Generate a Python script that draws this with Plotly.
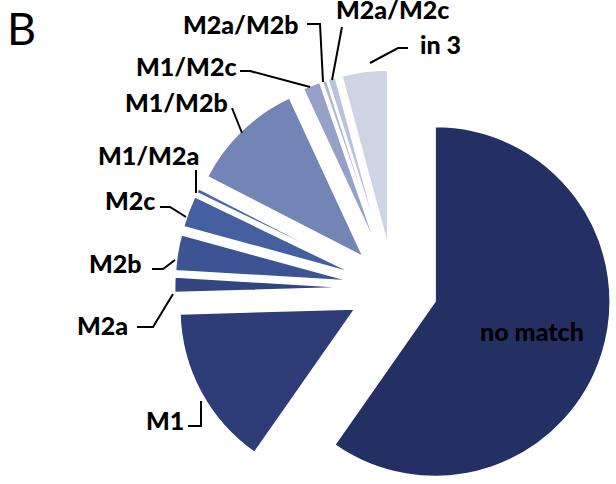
import math
import plotly.graph_objects as go

# ---- data ----
labels = ["no match", "M1", "M2a", "M2b", "M2c", "M1/M2a", "M1/M2b",
          "M1/M2c", "M2a/M2b", "M2a/M2c", "in 3"]
values = [59.6, 14.8, 1.4, 3.3, 2.9, 0.4, 10.5, 1.6, 0.4, 0.7, 4.2]
colors = ["#243064", "#2E3D77", "#324581", "#3C5493", "#4560A0", "#4A68AE",
          "#7384B7", "#95A1C8", "#AEB7D6", "#B9C1DC", "#CFD4E4"]

# ---- layout geometry (pixels) ----
W, H = 616, 484
R = 175.0          # pie radius
PULL = 0.25        # exploded fraction of radius (same for every slice)
C = [393.4, 291.0]  # pie centre

total = sum(values)
pull_px = PULL * R

def centre_of(i):
    start = 360.0 * sum(values[:i]) / total
    mid = math.radians(start + 180.0 * values[i] / total)
    return (C[0] + pull_px * math.sin(mid), C[1] - pull_px * math.cos(mid))

# keep every slice's box inside the page
centres = [centre_of(i) for i in range(len(values))]
dy = max(0.0, max(cy + R for _, cy in centres) - H)
dx = max(0.0, max(cx + R for cx, _ in centres) - W)
centres = [(cx - dx, cy - dy) for cx, cy in centres]

fig = go.Figure()
n = len(values)
for i, (cx, cy) in enumerate(centres):
    cols = ["rgba(0,0,0,0)"] * n
    cols[i] = colors[i]
    lw = [0] * n
    lw[i] = 1.5
    x0 = max(0.0, (cx - R) / W); x1 = min(1.0, (cx + R) / W)
    y0 = max(0.0, 1 - (cy + R) / H); y1 = min(1.0, 1 - (cy - R) / H)
    fig.add_trace(go.Pie(
        values=values, labels=labels, sort=False, direction="clockwise",
        rotation=0, marker=dict(colors=cols, line=dict(color="white", width=lw)),
        textinfo="none", hoverinfo="label+value", showlegend=False,
        domain=dict(x=[x0, x1], y=[y0, y1])))

def px(x, y):
    return x / W, 1 - y / H

FONT = "Lato, 'Open Sans', sans-serif"
label_pos = {
    "M2a/M2c": (392, 9),
    "M2a/M2b": (240, 24),
    "in 3": (440, 44),
    "M1/M2c": (186, 66),
    "M1/M2b": (176, 102),
    "M1/M2a": (148, 155),
    "M2c": (130, 200),
    "M2b": (115, 263),
    "M2a": (103, 325),
    "M1": (165, 420),
}
annotations = []
for lab, (x, y) in label_pos.items():
    ax_, ay_ = px(x, y)
    annotations.append(dict(x=ax_, y=ay_, xref="paper", yref="paper",
                            text=lab, showarrow=False,
                            xanchor="center", yanchor="middle",
                            font=dict(family=FONT, size=25, color="black",
                                      weight=900)))
nx, ny = px(532, 331)
annotations.append(dict(x=nx, y=ny, xref="paper", yref="paper",
                        text="no match", showarrow=False,
                        xanchor="center", yanchor="middle",
                        font=dict(family=FONT, size=25, color="black",
                                  weight=900)))
bx, by = px(21, 28)
annotations.append(dict(x=bx, y=by, xref="paper", yref="paper", text="B",
                        showarrow=False, xanchor="center", yanchor="middle",
                        font=dict(family=FONT, size=45, color="black")))

leaders = [
    [(188, 426), (201, 426), (201, 401)],
    [(137, 327), (153, 327), (173, 294)],
    [(152, 269), (163, 269), (175, 260)],
    [(160, 207), (170, 207), (186, 217)],
    [(196, 170), (196, 193)],
    [(232, 108), (242, 133)],
    [(240, 71), (250, 71), (310, 87)],
    [(307, 24), (320, 24), (323, 82)],
    [(342, 27), (332, 80)],
    [(408, 48), (398, 48), (370, 63)],
]
shapes = []
for pts in leaders:
    d = ""
    for k, (x, y) in enumerate(pts):
        X, Y = px(x, y)
        d += ("M" if k == 0 else " L") + " %.5f,%.5f" % (X, Y)
    shapes.append(dict(type="path", path=d, xref="paper", yref="paper",
                       line=dict(color="black", width=2)))

fig.update_layout(width=W, height=H, margin=dict(l=0, r=0, t=0, b=0),
                  paper_bgcolor="white", plot_bgcolor="white",
                  annotations=annotations, shapes=shapes, showlegend=False)
fig.write_html("out.html")
